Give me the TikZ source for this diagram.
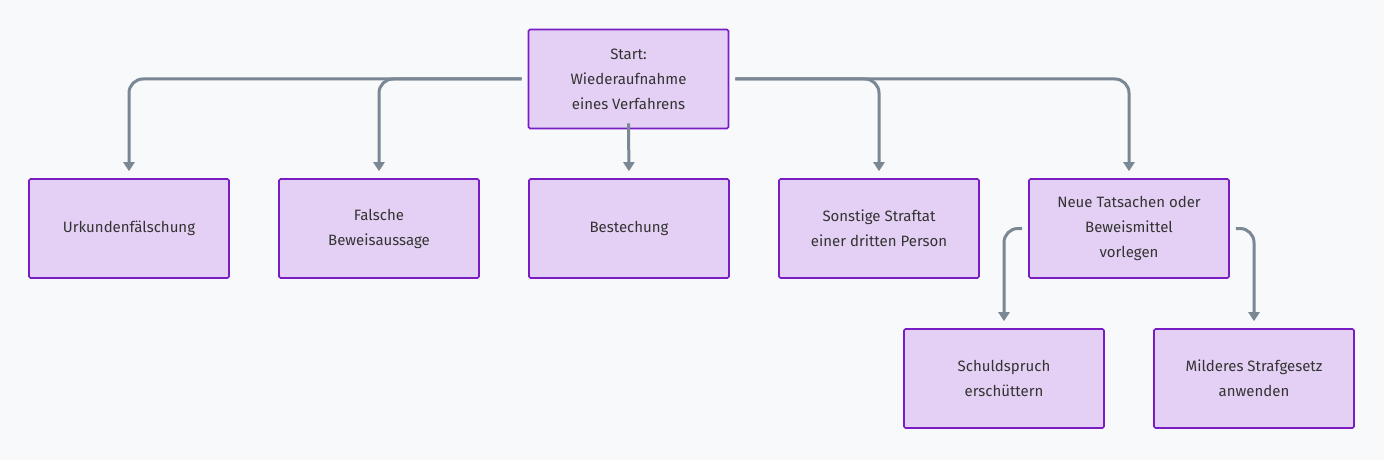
\documentclass[tikz,border=0pt]{standalone}
\usepackage{fontspec}
\setmainfont{Fira Sans}
\usetikzlibrary{arrows.meta}
\definecolor{boxfill}{HTML}{E4D0F4}
\definecolor{boxline}{HTML}{7A1CC4}
\definecolor{conncol}{HTML}{7A8794}
\definecolor{bgcol}{HTML}{F8F9FB}
\tikzset{
    box/.style={draw=boxline, fill=boxfill, line width=1.6pt, minimum width=200pt, minimum height=99pt,
        align=center, font=\fontsize{15}{25}\selectfont, text=black!80, rounded corners=1.5pt},
    conn/.style={draw=conncol, line width=3pt, rounded corners=14pt,
        -{Triangle[length=9pt,width=11pt]}, shorten >=7pt}
}
\begin{document}
\begin{tikzpicture}[x=1pt, y=-1pt]
	% Background
	\fill[bgcol] (0,0) rectangle (1384,460);
	
	% Nodes
	\node[box] (start) at (628.5,79) {Start:\\Wiederaufnahme\\eines Verfahrens};
	\node[box] (urk) at (129,228.5) {Urkundenfälschung};
	\node[box] (falsch) at (379,228.5) {Falsche\\Beweisaussage};
	\node[box] (best) at (629,228.5) {Bestechung};
	\node[box] (sonst) at (879,228.5) {Sonstige Straftat\\einer dritten Person};
	\node[box] (neu) at (1129,228.5) {Neue Tatsachen oder\\Beweismittel\\vorlegen};
	\node[box] (schuld) at (1004,378.5) {Schuldspruch\\erschüttern};
	\node[box] (mild) at (1254,378.5) {Milderes Strafgesetz\\anwenden};
	
	% Connectors
	\draw[conn] ([xshift=-6pt]start.west) -| (urk.north);
	\draw[conn] ([xshift=-6pt]start.west) -| (falsch.north);
	\draw[conn] ([yshift=6pt]start.south) -- (best.north);
	\draw[conn] ([xshift=6pt]start.east) -| (sonst.north);
	\draw[conn] ([xshift=6pt]start.east) -| (neu.north);
	\draw[conn] ([xshift=-6pt]neu.west) -| (schuld.north);
	\draw[conn] ([xshift=6pt]neu.east) -| (mild.north);
\end{tikzpicture}
\end{document}
